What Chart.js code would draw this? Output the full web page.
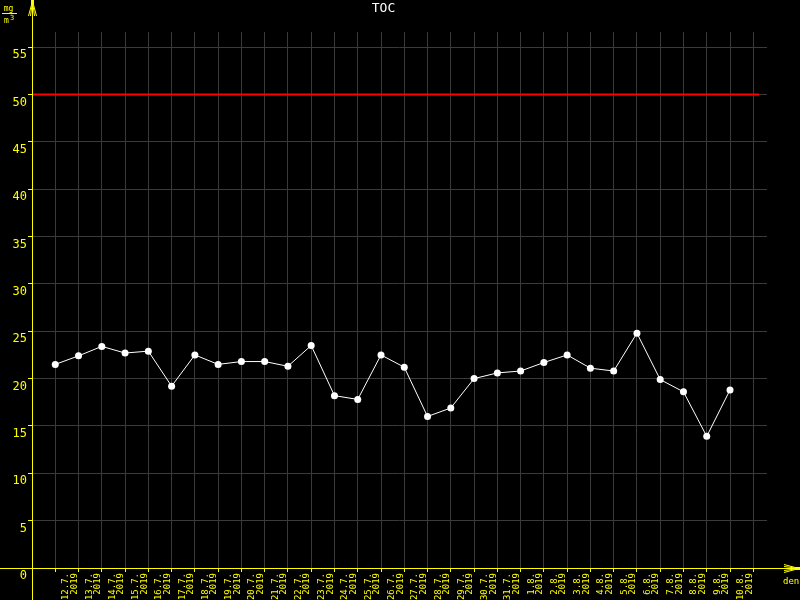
<!DOCTYPE html>
<html>
<head>
<meta charset="utf-8">
<script src="https://cdn.jsdelivr.net/npm/chart.js@4/dist/chart.umd.min.js"></script>
<style>
html, body { margin: 0; padding: 0; background: #000; }
</style>
</head>
<body>
<canvas id="tocChart" width="800" height="600"></canvas>
<script>
// TOC measurements, one point per day
const dayLabels = ['12.7.', '13.7.', '14.7.', '15.7.', '16.7.', '17.7.', '18.7.', '19.7.', '20.7.', '21.7.',
    '22.7.', '23.7.', '24.7.', '25.7.', '26.7.', '27.7.', '28.7.', '29.7.', '30.7.', '31.7.',
    '1.8.', '2.8.', '3.8.', '4.8.', '5.8.', '6.8.', '7.8.', '8.8.', '9.8.', '10.8.'];
const yearLabel = '2019';
const tocValues = [21.5, 22.4, 23.4, 22.7, 22.9, 19.2, 22.5, 21.5, 21.8, 21.8,
    21.3, 23.5, 18.2, 17.8, 22.5, 21.2, 16.0, 16.9, 20.0, 20.6,
    20.8, 21.7, 22.5, 21.1, 20.8, 24.8, 19.9, 18.6, 13.9, 18.8];
const limitValue = 50;
const limitRange = [-1, 30.25];
const yRange = [0, 56.6];
const xRange = [-1, 30.59];

const YELLOW = '#ffff00';
const GRID = '#3a3a3a';
const MONO = '"DejaVu Sans Mono", monospace';

function padLabel(s) {
    return s.padStart(5, ' ');
}

const decorations = {
    id: 'decorations',
    beforeDraw(chart) {
        const ctx = chart.ctx;
        ctx.save();
        ctx.fillStyle = '#000';
        ctx.fillRect(0, 0, chart.width, chart.height);
        ctx.restore();
    },
    afterDraw(chart) {
        const { ctx, chartArea } = chart;
        const ax = Math.round(chartArea.left) + 0.5;
        const ay = Math.round(chartArea.bottom) + 0.5;
        ctx.save();
        ctx.strokeStyle = YELLOW;
        ctx.fillStyle = YELLOW;
        ctx.lineWidth = 1;
        ctx.beginPath();
        ctx.moveTo(ax, 0); ctx.lineTo(ax, chart.height);
        ctx.moveTo(0, ay); ctx.lineTo(chart.width, ay);
        // arrow on y axis
        [-4, -2, 2, 4].forEach(d => {
            ctx.moveTo(ax, 1); ctx.lineTo(ax + d, 16);
        });
        // arrow on x axis
        [-4, -2, 2, 4].forEach(d => {
            ctx.moveTo(chart.width - 1, ay); ctx.lineTo(chart.width - 16, ay + d);
        });
        ctx.stroke();
        ctx.fillRect(ax - 1.5, 0, 3, 5);
        ctx.fillRect(chart.width - 5, ay - 1.5, 5, 3);

        // units  mg / m3
        ctx.textBaseline = 'alphabetic';
        ctx.textAlign = 'center';
        ctx.font = '8px ' + MONO;
        ctx.fillText('mg', 8.5, 11);
        ctx.fillRect(2, 13, 15, 1);
        ctx.fillText('m', 6.5, 23);
        ctx.font = '7px ' + MONO;
        ctx.fillText('3', 12, 20);
        ctx.font = '9px ' + MONO;
        ctx.textAlign = 'left';
        ctx.fillText('den', 783, 584);
        ctx.restore();
    }
};

const ctx = document.getElementById('tocChart').getContext('2d');
new Chart(ctx, {
    type: 'line',
    data: {
        datasets: [{
            label: 'TOC',
            data: tocValues.map((v, i) => ({ x: i, y: v })),
            borderColor: '#ffffff',
            borderWidth: 1,
            backgroundColor: '#ffffff',
            pointRadius: 3.5,
            pointBorderWidth: 0,
            tension: 0,
            order: 1
        }, {
            label: 'limit',
            data: limitRange.map(x => ({ x: x, y: limitValue })),
            borderColor: '#ff0000',
            borderWidth: 2,
            pointRadius: 0,
            order: 2
        }]
    },
    options: {
        responsive: false,
        animation: false,
        layout: { padding: { left: 0, right: 33, top: 0, bottom: 0 } },
        plugins: {
            legend: { display: false },
            tooltip: { enabled: false },
            title: {
                display: true,
                text: 'TOC',
                color: '#ffffff',
                font: { family: MONO, size: 13, weight: 'normal', lineHeight: 1.2 },
                padding: { top: 1, bottom: 15.4 }
            }
        },
        scales: {
            x: {
                type: 'linear',
                min: xRange[0],
                max: xRange[1],
                afterBuildTicks(scale) {
                    const ticks = [];
                    for (let v = -1; v <= 30; v += 0.5) ticks.push({ value: v });
                    scale.ticks = ticks;
                },
                afterFit(scale) { scale.height = 32; },
                border: { display: false },
                grid: {
                    color: c => Number.isInteger(c.tick.value) ? GRID : 'rgba(0,0,0,0)',
                    tickColor: c => Number.isInteger(c.tick.value) && c.tick.value >= 0 ? YELLOW : 'rgba(0,0,0,0)',
                    tickLength: 4,
                    lineWidth: 1
                },
                ticks: {
                    autoSkip: false,
                    minRotation: 90,
                    maxRotation: 90,
                    padding: 1,
                    labelOffset: -1,
                    color: YELLOW,
                    font: { family: MONO, size: 9, lineHeight: 0.95 },
                    callback: function (value) {
                        const i = value - 0.5;
                        if (Number.isInteger(i) && i >= 0 && i < dayLabels.length) {
                            return [padLabel(dayLabels[i]), padLabel(yearLabel)];
                        }
                        return '';
                    }
                }
            },
            y: {
                min: yRange[0],
                max: yRange[1],
                afterFit(scale) { scale.width = 32; },
                border: { display: false },
                grid: {
                    color: GRID,
                    tickColor: YELLOW,
                    tickLength: 4,
                    lineWidth: 1
                },
                ticks: {
                    stepSize: 5,
                    includeBounds: false,
                    padding: 1,
                    labelOffset: 8,
                    color: YELLOW,
                    font: { family: MONO, size: 12 }
                }
            }
        }
    },
    plugins: [decorations]
});
</script>
</body>
</html>
